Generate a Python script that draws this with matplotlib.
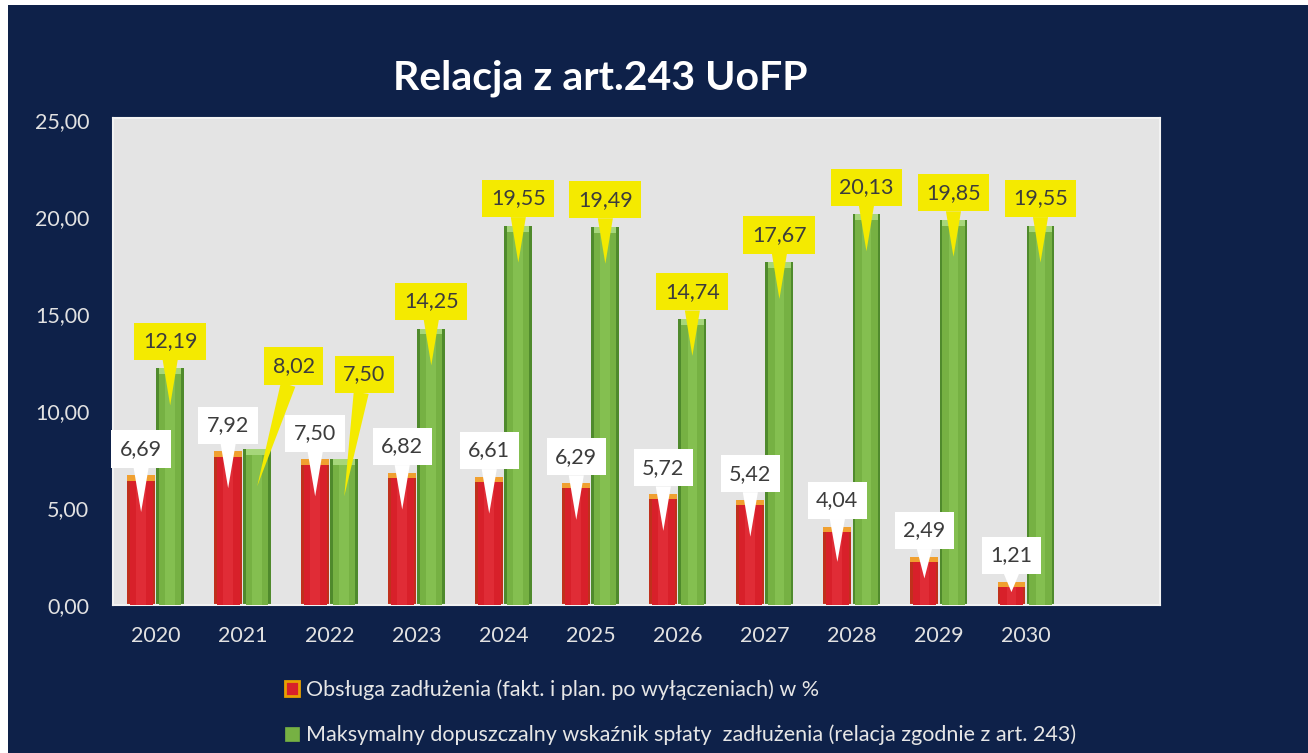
import matplotlib
matplotlib.use("Agg")
import matplotlib.pyplot as plt
from matplotlib.patches import Rectangle
import numpy as np

years = ["2020", "2021", "2022", "2023", "2024", "2025", "2026", "2027", "2028", "2029", "2030"]
obsluga = [6.69, 7.92, 7.50, 6.82, 6.61, 6.29, 5.72, 5.42, 4.04, 2.49, 1.21]
maksymalny = [12.19, 8.02, 7.50, 14.25, 19.55, 19.49, 14.74, 17.67, 20.13, 19.85, 19.55]
yticks = [0, 5, 10, 15, 20, 25]
title = "Relacja z art.243 UoFP"
label_red = "Obsługa zadłużenia (fakt. i plan. po wyłączeniach) w %"
label_green = "Maksymalny dopuszczalny wskaźnik spłaty  zadłużenia (relacja zgodnie z art. 243)"

# layout-only shifts for green labels (to avoid overlap with red labels)
green_dx = [0, 0.42, 0.23, 0, 0, 0, 0, 0, 0, 0, 0]
green_dy = [1.4, 4.3, 4.4, 1.4, 1.4, 1.4, 1.4, 1.4, 1.4, 1.4, 1.4]

W, H = 1308, 753
fig = plt.figure(figsize=(W / 100, H / 100), dpi=100, facecolor="white")
NAVY = "#0e2149"
fig.patches.append(Rectangle((8 / W, 0), 1 - 8 / W, 1 - 5 / H, transform=fig.transFigure,
                             facecolor=NAVY, edgecolor="none", zorder=-10))

ax = fig.add_axes([113 / W, 1 - 605 / H, (1160 - 113) / W, (605 - 118) / H])
ax.set_facecolor("#e4e4e4")
for s in ax.spines.values():
    s.set_edgecolor("#f2f2f2")
    s.set_linewidth(1.5)

FONT = "Lato"
x = np.arange(len(years))
bw = 0.32
off = 0.167

red_x = x - off
green_x = x + off

# red bars (cylinder-like shading)
ax.bar(red_x, obsluga, width=bw, color="#c0301c", zorder=2)
ax.bar(red_x, obsluga, width=bw * 0.82, color="#d8202a", zorder=3)
ax.bar(red_x, obsluga, width=bw * 0.35, color="#e02c36", zorder=3)
ax.bar(red_x, [0.28] * len(obsluga), bottom=np.array(obsluga) - 0.28, width=bw,
       color="#f0a030", zorder=4)

# green bars
ax.bar(green_x, maksymalny, width=bw, color="#4f8a2c", zorder=2)
ax.bar(green_x, maksymalny, width=bw * 0.8, color="#76b143", zorder=3)
ax.bar(green_x, maksymalny, width=bw * 0.35, color="#84bf50", zorder=3)
ax.bar(green_x, [0.3] * len(maksymalny), bottom=np.array(maksymalny) - 0.3, width=bw * 0.8,
       color="#a6d67a", zorder=4)

ax.set_xlim(-0.49, 11.54)
ax.set_ylim(0, 25.1)
ax.set_yticks(yticks)
ax.set_yticklabels([f"{v:.2f}".replace(".", ",") for v in yticks])
ax.set_xticks(x)
ax.set_xticklabels(years)
ax.tick_params(axis="both", length=0, colors="#e2e2e2", labelsize=15.5)
ax.tick_params(axis="y", pad=17)
ax.tick_params(axis="x", pad=15)
for lab in ax.get_xticklabels() + ax.get_yticklabels():
    lab.set_fontfamily(FONT)


def fmt(v):
    return f"{v:.2f}".replace(".", ",")


def callout(xb, v, fc, dx=0.0, dy=1.35):
    ty = v + dy
    tip = max(v - 1.9, v * 0.55)
    ax.annotate(fmt(v), xy=(xb, tip), xytext=(xb + dx, ty),
                ha="center", va="center", fontsize=15.5, family=FONT, color="#3c3c3c",
                bbox=dict(boxstyle="square,pad=0.4", fc=fc, ec="none"),
                arrowprops=dict(arrowstyle="wedge,tail_width=0.7,shrink_factor=0.5",
                                fc=fc, ec="none", shrinkA=0, shrinkB=0),
                zorder=6)


for xi, v in zip(red_x, obsluga):
    callout(xi, v, "white")
for xi, v, dx, dy in zip(green_x, maksymalny, green_dx, green_dy):
    callout(xi, v, "#f4ea00", dx, dy)

fig.text(600 / W, 1 - 78 / H, title, ha="center", va="center", color="white",
         fontsize=29.5, fontweight="bold", family=FONT)

h_red = Rectangle((0, 0), 1, 1, facecolor="#d8202a", edgecolor="#e8a000", linewidth=2)
h_green = Rectangle((0, 0), 1, 1, facecolor="#76b143", edgecolor="#76b143", linewidth=0.5)
leg = fig.legend([h_red, h_green], [label_red, label_green], loc="upper left",
                 bbox_to_anchor=(266 / W, 1 - 660 / H), frameon=False,
                 handlelength=0.65, handleheight=0.65, handletextpad=0.3,
                 labelspacing=1.15, prop={"family": FONT, "size": 15.5})
for t in leg.get_texts():
    t.set_color("#e6e6e6")

fig.savefig("out.png", dpi=100, facecolor=fig.get_facecolor())
